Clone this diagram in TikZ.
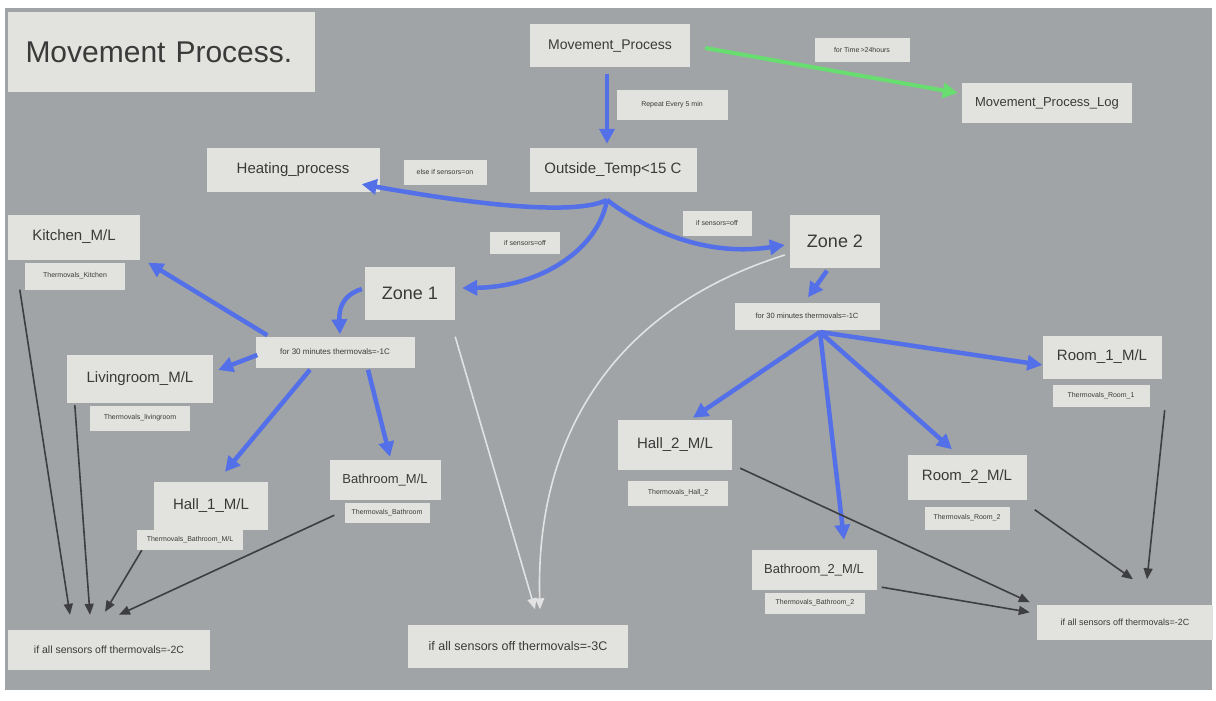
\documentclass[tikz,border=0pt]{standalone}
\usepackage{fontspec}
\setmainfont{Liberation Sans}
\usetikzlibrary{arrows.meta}
\definecolor{board}{RGB}{160,164,167}
\definecolor{card}{RGB}{226,226,222}
\definecolor{ink}{RGB}{58,58,58}
\definecolor{flowblue}{RGB}{84,112,232}
\definecolor{loggreen}{RGB}{104,222,112}
\definecolor{darkline}{RGB}{62,62,64}
\definecolor{paleline}{RGB}{226,226,226}
\begin{document}
\begin{tikzpicture}[x=1pt,y=-1pt,
  card/.style={fill=card,text=ink,inner sep=0pt,font=\fontsize{15}{17}\selectfont},
  tag/.style={fill=card,text=ink,inner sep=0pt,font=\fontsize{7}{8}\selectfont},
  flow/.style={draw=flowblue,line width=4.5pt,-{Triangle[length=15pt,width=15pt]}},
  logflow/.style={draw=loggreen,line width=4pt,-{Triangle[length=15pt,width=15pt]}},
  sink/.style={draw=darkline,line width=1.6pt,-{Triangle[length=11pt,width=9pt]}},
  palesink/.style={draw=paleline,line width=1.6pt,-{Triangle[length=11pt,width=9pt]}}]
% board
\fill[white] (0,0) rectangle (1216,701);
\fill[board] (5,8) rectangle (1212,690);
\useasboundingbox (0,0) rectangle (1216,701);

% title
\node[card,minimum width=307,minimum height=80,font=\fontsize{30}{33}\selectfont,
  text width=272,align=left] (title) at (161.5,52) {Movement Process.};

% top of the flow
\node[card,minimum width=160,minimum height=43,font=\fontsize{14}{16}\selectfont] (mp) at (610,46) {Movement\_Process};
\node[tag,minimum width=95,minimum height=24] (tlog) at (862,50) {for Time\,>24hours};
\node[card,minimum width=170,minimum height=40,font=\fontsize{13}{15}\selectfont] (log) at (1047,103) {Movement\_Process\_Log};
\node[tag,minimum width=111,minimum height=30] (trep) at (672,105) {Repeat Every 5 min};
\node[card,minimum width=167,minimum height=44] (ot) at (613,170) {Outside\_Temp<15 C};
\node[card,minimum width=173,minimum height=44] (heat) at (293,170) {Heating\_process};
\node[tag,minimum width=83,minimum height=25] (telse) at (445,172) {else if sensors=on};
\node[tag,minimum width=70,minimum height=22] (toff1) at (525,243) {if sensors=off};
\node[tag,minimum width=69,minimum height=25] (toff2) at (717,223) {if sensors=off};
\coordinate (fork) at (607,200);

% zone 1
\node[card,minimum width=90,minimum height=53,font=\fontsize{18}{20}\selectfont] (z1) at (410,293) {Zone 1};
\node[tag,minimum width=159,minimum height=31,font=\fontsize{8}{9}\selectfont] (t1) at (335,352) {for 30 minutes thermovals=-1C};
\node[card,minimum width=132,minimum height=45] (kit) at (74,237) {Kitchen\_M/L};
\node[tag,minimum width=100,minimum height=27] (kitl) at (75,276) {Thermovals\_Kitchen};
\node[card,minimum width=146,minimum height=48] (liv) at (140,379) {Livingroom\_M/L};
\node[tag,minimum width=100,minimum height=25] (livl) at (140,418) {Thermovals\_livingroom};
\node[card,minimum width=114,minimum height=48] (h1) at (211,506) {Hall\_1\_M/L};
\node[tag,minimum width=106,minimum height=20] (h1l) at (190,540) {Thermovals\_Bathroom\_M/L};
\node[card,minimum width=111,minimum height=40,font=\fontsize{13}{15}\selectfont] (b1) at (385,480) {Bathroom\_M/L};
\node[tag,minimum width=85,minimum height=20] (b1l) at (387,513) {Thermovals\_Bathroom};
\node[card,minimum width=202,minimum height=40,font=\fontsize{10.5}{12}\selectfont] (bl) at (109,650) {if all sensors off thermovals=-2C};

% middle sink
\node[card,minimum width=220,minimum height=43,font=\fontsize{12.5}{14}\selectfont] (mid) at (518,646) {if all sensors off thermovals=-3C};

% zone 2
\node[card,minimum width=90,minimum height=53,font=\fontsize{18}{20}\selectfont] (z2) at (835,241) {Zone 2};
\node[tag,minimum width=145,minimum height=27,font=\fontsize{7.5}{9}\selectfont] (t2) at (807,316) {for 30 minutes thermovals=-1C};
\coordinate (fork2) at (820,332);
\node[card,minimum width=119,minimum height=43] (r1) at (1102,357) {Room\_1\_M/L};
\node[tag,minimum width=97,minimum height=22] (r1l) at (1101,396) {Thermovals\_Room\_1};
\node[card,minimum width=114,minimum height=50] (h2) at (675,445) {Hall\_2\_M/L};
\node[tag,minimum width=100,minimum height=25] (h2l) at (678,493) {Thermovals\_Hall\_2};
\node[card,minimum width=119,minimum height=45] (r2) at (967,477) {Room\_2\_M/L};
\node[tag,minimum width=85,minimum height=23] (r2l) at (967,518) {Thermovals\_Room\_2};
\node[card,minimum width=125,minimum height=40,font=\fontsize{13}{15}\selectfont] (b2) at (814,570) {Bathroom\_2\_M/L};
\node[tag,minimum width=100,minimum height=21] (b2l) at (815,603) {Thermovals\_Bathroom\_2};
\node[card,minimum width=176,minimum height=35,font=\fontsize{9}{10}\selectfont] (br) at (1125,622) {if all sensors off thermovals=-2C};

% blue flow
\draw[flow] ([shift={(-3,6)}]mp.south) -- ([shift={(-6,-4)}]ot.north);
\draw[flow] (fork) .. controls (570,218) and (450,200) .. ([shift={(-18,-8)}]heat.south east);
\draw[flow] (fork) .. controls (598,250) and (540,287) .. ([shift={(7,-5)}]z1.east);
\draw[flow] (fork) .. controls (640,225) and (700,258) .. ([shift={(-5,4)}]z2.west);
\draw[flow] ([shift={(-8,3)}]z2.south) -- ([shift={(1,-5)}]t2.north);
\draw[flow] ([shift={(-3,-4)}]z1.west) .. controls (340,296) and (339,312) .. ([shift={(5,-2)}]t1.north);
\draw[flow] ([shift={(12,-1)}]t1.north west) -- ([shift={(8,3)}]kit.south east);
\draw[flow] ([shift={(2,3)}]t1.west) -- ([shift={(5,-9)}]liv.east);
\draw[flow] ([shift={(-25,2)}]t1.south) -- ([shift={(14,-10)}]h1.north);
\draw[flow] ([shift={(33,2)}]t1.south) -- ([shift={(5,-3)}]b1.north);
\draw[flow] (fork2) -- ([shift={(0,8)}]r1.west);
\draw[flow] (fork2) -- ([shift={(18,-2)}]h2.north);
\draw[flow] (fork2) -- ([shift={(30,-10)}]b2.north);
\draw[flow] (fork2) -- ([shift={(-15,-5)}]r2.north);

% log
\draw[logflow] ([shift={(15,2)}]mp.east) -- ([shift={(-4,-10)}]log.west);

% sinks on the left
\draw[sink] ([shift={(-5,0)}]kitl.south west) -- ([shift={(-39,-15)}]bl.north);
\draw[sink] ([shift={(8,2)}]liv.south west) -- ([shift={(-19,-15)}]bl.north);
\draw[sink] ([shift={(5,0)}]h1l.south west) -- ([shift={(-4,-18)}]bl.north);
\draw[sink] ([shift={(-10,-8)}]b1l.south west) -- ([shift={(10,-15)}]bl.north);

% pale sinks into the middle
\draw[palesink] ([shift={(0,17)}]z1.south east) -- ([shift={(17,-15)}]mid.north);
\draw[palesink] ([shift={(-5,14)}]z2.west) .. controls (610,310) and (535,440) .. ([shift={(22,-15)}]mid.north);

% sinks on the right
\draw[sink] ([shift={(8,-2)}]h2.south east) -- ([shift={(-7,-2)}]br.north west);
\draw[sink] ([shift={(5,-3)}]b2.south east) -- ([shift={(-7,8)}]br.north west);
\draw[sink] ([shift={(8,10)}]r2.south east) -- ([shift={(8,-25)}]br.north);
\draw[sink] ([shift={(15,3)}]r1l.south east) -- ([shift={(22,-25)}]br.north);
\end{tikzpicture}
\end{document}
